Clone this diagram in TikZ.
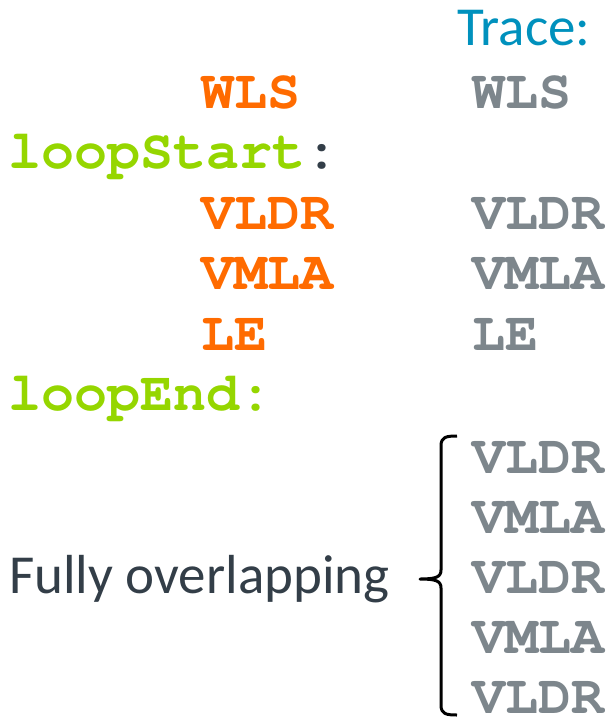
\documentclass[tikz,border=0pt]{standalone}
\usepackage{fontspec}
\setmainfont{Carlito}
\newfontfamily\codefont{TeX Gyre Cursor}
\definecolor{armorange}{HTML}{FF6B00}
\definecolor{armgreen}{HTML}{95D600}
\definecolor{armgray}{HTML}{7D868C}
\definecolor{armblue}{HTML}{0091BD}
\definecolor{armdark}{HTML}{333E48}
\tikzset{
  code/.style={inner sep=0pt, anchor=base west, font=\codefont\bfseries\fontsize{55}{60}\selectfont},
  instr/.style={code, text=armorange},
  lbl/.style={code, text=armgreen},
  trc/.style={code, text=armgray},
  sans/.style={inner sep=0pt, anchor=base west, font=\fontsize{55}{60}\selectfont},
}
\begin{document}
\begin{tikzpicture}[x=1pt,y=-1pt]
\useasboundingbox (0,0) rectangle (613,718);
\node[sans, text=armblue] (trace) at (457,45) {Trace:};
\node[instr] (i1) at (201,108) {WLS};
\node[lbl] (l1) at (8,168) {loopStart\textcolor{armdark}{:}};
\node[instr] (i2) at (201,229) {VLDR};
\node[instr] (i3) at (201,289) {VMLA};
\node[instr] (i4) at (201,350) {LE};
\node[lbl] (l2) at (8,410) {loopEnd:};
\node[trc] (t1) at (472,108) {WLS};
\node[trc] (t2) at (472,229) {VLDR};
\node[trc] (t3) at (472,289) {VMLA};
\node[trc] (t4) at (472,350) {LE};
\node[trc] (o1) at (472,473) {VLDR};
\node[trc] (o2) at (472,533) {VMLA};
\node[trc] (o3) at (472,593) {VLDR};
\node[trc] (o4) at (472,653) {VMLA};
\node[trc] (o5) at (472,713) {VLDR};
\node[sans, text=armdark] (fo) at (9,593) {Fully overlapping};
\coordinate (btop) at (457,436);
\coordinate (bbot) at (457,715);
\coordinate (btip) at (420,579);
\draw[line width=3pt, line join=round] (btop) .. controls (446,436) and (441,437) .. (441,446) -- (441,570) .. controls (441,577) and (436,579) .. (btip) .. controls (436,579) and (441,581) .. (441,588) -- (441,705) .. controls (441,714) and (446,715) .. (bbot);
\end{tikzpicture}
\end{document}
